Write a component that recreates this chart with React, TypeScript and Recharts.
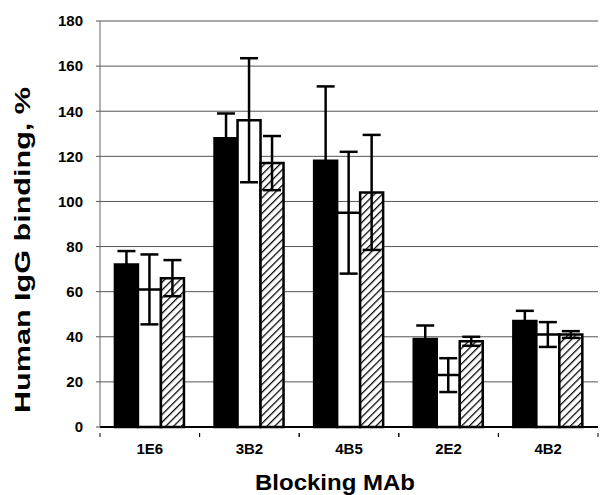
import React from 'react';
import {
  BarChart,
  Bar,
  XAxis,
  YAxis,
  CartesianGrid,
  ErrorBar,
} from 'recharts';

const categories = ['1E6', '3B2', '4B5', '2E2', '4B2'];
const blackValues = [72, 128, 118, 39, 47];
const blackErrors = [6, 11, 33, 6, 4.5];
const whiteValues = [61, 136, 95, 23, 41];
const whiteErrors = [15.5, 27.5, 27, 7.5, 5.5];
const hatchedValues = [66, 117, 104, 38, 41];
const hatchedErrors = [8, 12, 25.5, 2, 1.5];
const yTicks = [0, 20, 40, 60, 80, 100, 120, 140, 160, 180];

const data = categories.map((name, i) => ({
  name,
  black: blackValues[i],
  blackErr: blackErrors[i],
  white: whiteValues[i],
  whiteErr: whiteErrors[i],
  hatched: hatchedValues[i],
  hatchedErr: hatchedErrors[i],
}));

const font = '"Liberation Sans", Arial, sans-serif';
const halfCategory = 99.6 / 2;

function CategoryTick({ x, y, payload }: any) {
  return (
    <g>
      <line x1={x - halfCategory} y1={y - 2} x2={x - halfCategory} y2={y + 2} stroke="#000" />
      <line x1={x + halfCategory} y1={y - 2} x2={x + halfCategory} y2={y + 2} stroke="#000" />
      <text
        x={x}
        y={y + 19}
        textAnchor="middle"
        fontFamily={font}
        fontWeight="bold"
        fontSize={15}
        fill="#000"
      >
        {payload.value}
      </text>
    </g>
  );
}

export default function App() {
  return (
    <div style={{ position: 'absolute', left: 0, top: 0, background: '#fff' }}>
      <BarChart
        width={600}
        height={495}
        data={data}
        margin={{ top: 21, right: 2, bottom: 38, left: 40 }}
        barCategoryGap="15%"
        barGap={0}
      >
        <defs>
          <pattern
            id="hatch"
            width={5.5}
            height={5.5}
            patternUnits="userSpaceOnUse"
            patternTransform="rotate(45)"
          >
            <rect width={5.5} height={5.5} fill="#fff" />
            <line x1={0} y1={0} x2={0} y2={5.5} stroke="#000" strokeWidth={2.5} />
          </pattern>
        </defs>
        <CartesianGrid vertical={false} stroke="#555" strokeWidth={1} />
        <XAxis
          dataKey="name"
          height={30}
          tickLine={false}
          axisLine={{ stroke: '#000', strokeWidth: 2 }}
          tick={<CategoryTick />}
          interval={0}
        />
        <YAxis
          width={60}
          domain={[0, 180]}
          ticks={yTicks}
          interval={0}
          tickSize={4}
          tickMargin={13}
          axisLine={{ stroke: '#666' }}
          tickLine={{ stroke: '#555' }}
          tick={{ fill: '#000', fontSize: 15, fontWeight: 'bold', fontFamily: font }}
        />
        <Bar dataKey="black" fill="#000" stroke="#000" strokeWidth={2.5} isAnimationActive={false}>
          <ErrorBar dataKey="blackErr" width={9} stroke="#000" strokeWidth={2.5} />
        </Bar>
        <Bar dataKey="white" fill="#fff" stroke="#000" strokeWidth={2.5} isAnimationActive={false}>
          <ErrorBar dataKey="whiteErr" width={9} stroke="#000" strokeWidth={2.5} />
        </Bar>
        <Bar dataKey="hatched" fill="url(#hatch)" stroke="#000" strokeWidth={2.5} isAnimationActive={false}>
          <ErrorBar dataKey="hatchedErr" width={9} stroke="#000" strokeWidth={2.5} />
        </Bar>
        <text
          x={24}
          y={250}
          transform="rotate(-90 24 250)"
          textAnchor="middle"
          dominantBaseline="middle"
          fontFamily={font}
          fontWeight="bold"
          fontSize={22}
          textLength={326}
          lengthAdjust="spacingAndGlyphs"
          fill="#000"
        >
          Human IgG binding, %
        </text>
        <text
          x={335}
          y={490}
          textAnchor="middle"
          fontFamily={font}
          fontWeight="bold"
          fontSize={22}
          textLength={160}
          lengthAdjust="spacingAndGlyphs"
          fill="#000"
        >
          Blocking MAb
        </text>
      </BarChart>
    </div>
  );
}
